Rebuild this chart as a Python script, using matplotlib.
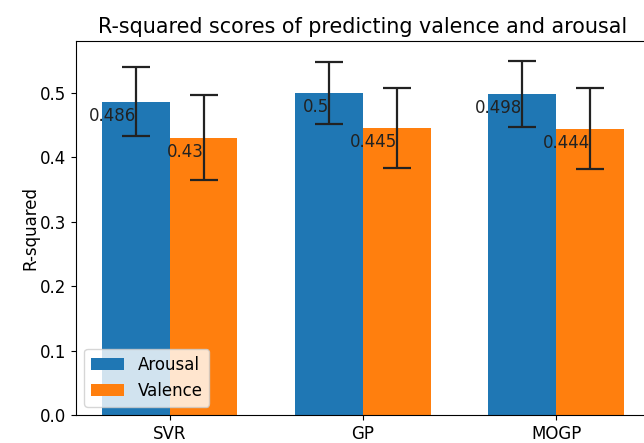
import matplotlib
matplotlib.use("Agg")
import matplotlib.pyplot as plt
import numpy as np

models = ["SVR", "GP", "MOGP"]
arousal = [0.486, 0.5, 0.498]
valence = [0.43, 0.445, 0.444]
arousal_err = [0.054, 0.048, 0.051]
valence_err = [0.066, 0.0625, 0.063]

plt.rcParams['font.size'] = 12
fig = plt.figure(figsize=(6.44, 4.43), dpi=100)
ax = fig.add_axes([0.118, 0.0632, 0.891, 0.8443])

x = np.arange(len(models))
w = 0.35
ax.bar(x - w/2, arousal, w, yerr=arousal_err, capsize=10, label="Arousal",
       error_kw=dict(ecolor='#222222', elinewidth=1.6, capthick=1.6))
ax.bar(x + w/2, valence, w, yerr=valence_err, capsize=10, label="Valence",
       error_kw=dict(ecolor='#222222', elinewidth=1.6, capthick=1.6))

for xi, v in zip(x - w/2, arousal):
    ax.text(xi, v - 0.03, str(v), ha='right', va='baseline', color='#222222')
for xi, v in zip(x + w/2, valence):
    ax.text(xi, v - 0.03, str(v), ha='right', va='baseline', color='#222222')

ax.set_ylim(0, 0.58)
ax.set_xticks(x)
ax.set_xticklabels(models)
ax.set_ylabel("R-squared", labelpad=0.5)
ax.set_title("R-squared scores of predicting valence and arousal", fontsize=14.9)
ax.legend(loc='lower left')

fig.savefig("out.png", dpi=100)
